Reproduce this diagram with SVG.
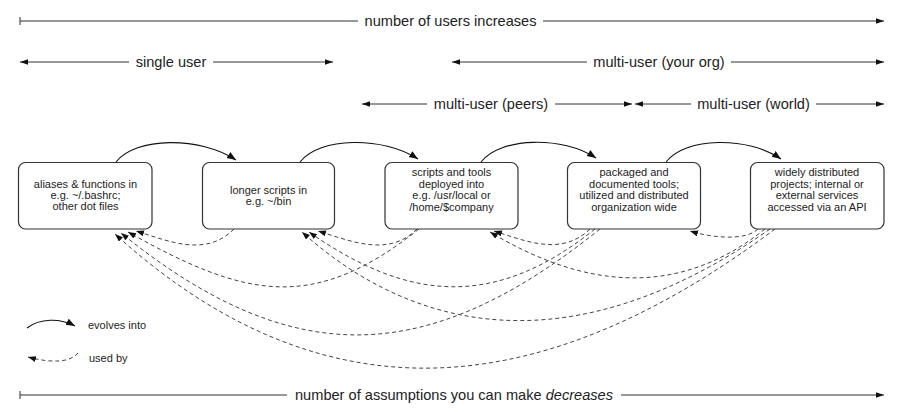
<svg xmlns="http://www.w3.org/2000/svg" width="897" height="412" viewBox="0 0 897 412">
<defs>
<style>
text{font-family:"Liberation Sans",Arial,Helvetica,sans-serif;fill:#222}
.lbl{font-size:14.6px;text-anchor:middle}
.nt{font-size:11px;text-anchor:middle}
.lg{font-size:11px}
.rng{stroke:#333;stroke-width:1;fill:none}
.box{fill:#fff;stroke:#333;stroke-width:1.2}
.evo{stroke:#111;stroke-width:1.1;fill:none;marker-end:url(#mEvo)}
.use{stroke:#444;stroke-width:1;fill:none;stroke-dasharray:4 3;marker-end:url(#mUse)}
</style>
<marker id="mArr" markerUnits="userSpaceOnUse" markerWidth="9" markerHeight="6" refX="8" refY="3" orient="auto-start-reverse"><path d="M0,0.2 L8,3 L0,5.8 z" fill="#111"/></marker>
<marker id="mEvo" markerUnits="userSpaceOnUse" markerWidth="10" markerHeight="8" refX="9" refY="3.5" orient="auto"><path d="M0,0 L9,3.5 L0,7 z" fill="#111"/></marker>
<marker id="mUse" markerUnits="userSpaceOnUse" markerWidth="9" markerHeight="7" refX="8" refY="3" orient="auto"><path d="M0,0 L8,3 L0,6 z" fill="#111"/></marker>
</defs>

<g id="scales">
<path class="rng" d="M20,17 V25 M20,21 H358"/>
<path class="rng" d="M543,21 H884" marker-end="url(#mArr)"/>
<text class="lbl" x="450.5" y="26">number of users increases</text>

<path class="rng" d="M20,62 H129" marker-start="url(#mArr)"/>
<path class="rng" d="M213,62 H333" marker-end="url(#mArr)"/>
<text class="lbl" x="171" y="67">single user</text>

<path class="rng" d="M452,62 H587" marker-start="url(#mArr)"/>
<path class="rng" d="M731,62 H884" marker-end="url(#mArr)"/>
<text class="lbl" x="659" y="67">multi-user (your org)</text>

<path class="rng" d="M362,104 H427" marker-start="url(#mArr)"/>
<path class="rng" d="M555,104 H632" marker-end="url(#mArr)"/>
<text class="lbl" x="491" y="109">multi-user (peers)</text>

<path class="rng" d="M635,104 H691" marker-start="url(#mArr)"/>
<path class="rng" d="M816,104 H884" marker-end="url(#mArr)"/>
<text class="lbl" x="753.5" y="109">multi-user (world)</text>

<path class="rng" d="M20,391 V399 M20,395 H287"/>
<path class="rng" d="M621,395 H884" marker-end="url(#mArr)"/>
<text class="lbl" x="454" y="400">number of assumptions you can make <tspan font-style="italic">decreases</tspan></text>
</g>

<g id="connectors">
<path class="evo" d="M116,162 C135,137 200,136 236,160"/>
<path class="evo" d="M300,162 C319,137 383,136 418,159"/>
<path class="evo" d="M481,162 C500,137 563,136 596,158"/>
<path class="evo" d="M666,162 C685,137 748,136 781,159"/>

<path class="use" d="M234,229 C206,257 171,242 136,231"/>
<path class="use" d="M417,229 C389,257 353,242 318,231"/>
<path class="use" d="M590,229 C562,256 528,242 494,231"/>
<path class="use" d="M758,229 C746,241 712,238 690,231"/>

<path class="use" d="M419,229 C312,314 244,297 128,232"/>
<path class="use" d="M595,229 C495,309 409,302 309,232"/>
<path class="use" d="M765,229 C675,301 580,286 490,232"/>

<path class="use" d="M600,229 C428,367 293,372 121,233"/>
<path class="use" d="M770,229 C570,369 412,331 302,232"/>

<path class="use" d="M775,229 C556,393 334,433 115,234"/>
</g>

<g id="n1">
<rect class="box" x="18.5" y="162.5" width="133.5" height="66.5" rx="7"/>
<text class="nt" x="85.5" y="187.5">aliases &amp; functions in</text>
<text class="nt" x="85.5" y="198.5">e.g. ~/.bashrc;</text>
<text class="nt" x="85.5" y="209.5">other dot files</text>
</g>
<g id="n2">
<rect class="box" x="202.5" y="162.5" width="132" height="66.5" rx="7"/>
<text class="nt" x="268.5" y="193.5">longer scripts in</text>
<text class="nt" x="268.5" y="204.5">e.g. ~/bin</text>
</g>
<g id="n3">
<rect class="box" x="385" y="162.5" width="133" height="66.5" rx="7"/>
<text class="nt" x="451.5" y="176">scripts and tools</text>
<text class="nt" x="451.5" y="187.5">deployed into</text>
<text class="nt" x="451.5" y="199">e.g. /usr/local or</text>
<text class="nt" x="451.5" y="210.5">/home/$company</text>
</g>
<g id="n4">
<rect class="box" x="567.5" y="162.5" width="133" height="66.5" rx="7"/>
<text class="nt" x="634" y="176">packaged and</text>
<text class="nt" x="634" y="187.5">documented tools;</text>
<text class="nt" x="634" y="199">utilized and distributed</text>
<text class="nt" x="634" y="210.5">organization wide</text>
</g>
<g id="n5">
<rect class="box" x="750.5" y="162.5" width="133.5" height="66.5" rx="7"/>
<text class="nt" x="817" y="176">widely distributed</text>
<text class="nt" x="817" y="187.5">projects; internal or</text>
<text class="nt" x="817" y="199">external services</text>
<text class="nt" x="817" y="210.5">accessed via an API</text>
</g>

<g id="legend">
<path class="evo" d="M27,328 C40,318 60,318 75,326"/>
<text class="lg" x="88" y="328.5">evolves into</text>
<path class="use" d="M78,353 C70,363 50,363 28,357"/>
<text class="lg" x="89" y="362">used by</text>
</g>
</svg>
